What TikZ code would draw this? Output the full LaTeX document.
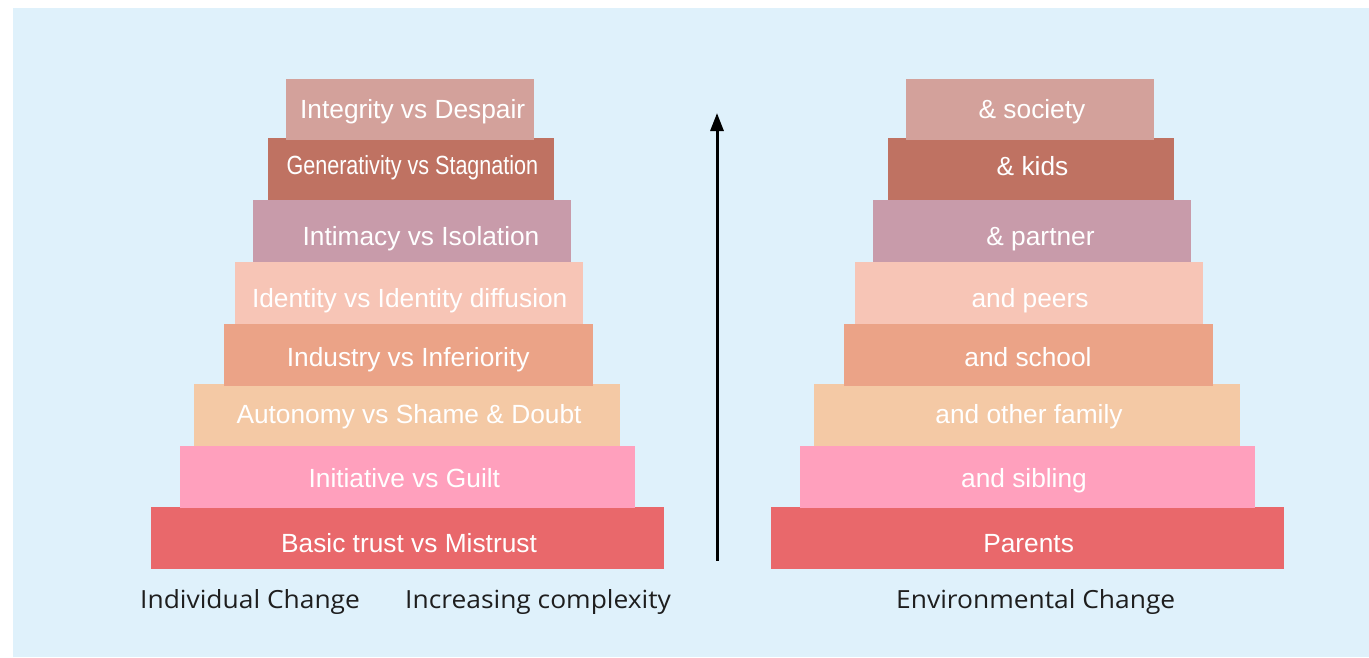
\documentclass[tikz,border=0pt]{standalone}
\usepackage{fontspec}
\setmainfont{Liberation Sans}
\newfontfamily\labelfont{Open Sans}
\usetikzlibrary{arrows.meta}
\definecolor{bgblue}{HTML}{DFF1FB}
\definecolor{cA}{HTML}{D3A19B}
\definecolor{cB}{HTML}{BF7262}
\definecolor{cC}{HTML}{C89BAA}
\definecolor{cD}{HTML}{F7C5B6}
\definecolor{cE}{HTML}{EBA387}
\definecolor{cF}{HTML}{F4C9A5}
\definecolor{cG}{HTML}{FFA0BD}
\definecolor{cH}{HTML}{E9686B}
\definecolor{labelgray}{HTML}{1E1E1E}
\tikzset{
  bar/.style={draw=none, inner sep=0pt, outer sep=0pt, rectangle},
  bartext/.style={anchor=base, inner sep=0pt, text=white, font=\fontsize{26.3}{30}\selectfont},
  caption/.style={anchor=base west, inner sep=0pt, text=labelgray, font=\labelfont\fontsize{25}{30}\selectfont},
  uparrow/.style={line width=3pt, -{Triangle[length=18pt,width=13pt]}}
}
\newcommand{\capwide}[1]{\scalebox{1.055}[1]{#1}}
\begin{document}
\begin{tikzpicture}[x=1pt,y=-1pt]
\useasboundingbox (0,0) rectangle (1369,657);
\fill[bgblue] (13,8) rectangle (1369,657);
% left pyramid (drawn bottom-up)
\node[bar, fill=cH, minimum width=513pt, minimum height=62pt] (L8) at (407.5,538) {};
\node[bar, fill=cG, minimum width=455pt, minimum height=62pt] (L7) at (407.5,477) {};
\node[bar, fill=cF, minimum width=426pt, minimum height=62pt] (L6) at (407,415) {};
\node[bar, fill=cE, minimum width=369pt, minimum height=62pt] (L5) at (408.5,355) {};
\node[bar, fill=cD, minimum width=348pt, minimum height=62pt] (L4) at (409,293) {};
\node[bar, fill=cC, minimum width=318pt, minimum height=62pt] (L3) at (412,231) {};
\node[bar, fill=cB, minimum width=286pt, minimum height=62pt] (L2) at (411,169) {};
\node[bar, fill=cA, minimum width=248pt, minimum height=60.5pt] (L1) at (410,109.25) {};
% right pyramid
\node[bar, fill=cH, minimum width=513pt, minimum height=62pt] (R8) at (1027.5,538) {};
\node[bar, fill=cG, minimum width=455pt, minimum height=62pt] (R7) at (1027.5,477) {};
\node[bar, fill=cF, minimum width=426pt, minimum height=62pt] (R6) at (1027,415) {};
\node[bar, fill=cE, minimum width=369pt, minimum height=62pt] (R5) at (1028.5,355) {};
\node[bar, fill=cD, minimum width=348pt, minimum height=62pt] (R4) at (1029,293) {};
\node[bar, fill=cC, minimum width=318pt, minimum height=62pt] (R3) at (1032,231) {};
\node[bar, fill=cB, minimum width=286pt, minimum height=62pt] (R2) at (1031,169) {};
\node[bar, fill=cA, minimum width=248pt, minimum height=60.5pt] (R1) at (1030,109.25) {};
% left texts
\node[bartext] (tL1) at (412.7,118) {Integrity vs Despair};
\node[bartext] (tL2) at (412.4,174) {\scalebox{0.82}[1]{Generativity vs Stagnation}};
\node[bartext] (tL3) at (421,245) {Intimacy vs Isolation};
\node[bartext] (tL4) at (409.7,307) {Identity vs Identity diffusion};
\node[bartext] (tL5) at (408.2,366) {Industry vs Inferiority};
\node[bartext] (tL6) at (409,423) {Autonomy vs Shame \& Doubt};
\node[bartext] (tL7) at (404.3,487) {Initiative vs Guilt};
\node[bartext] (tL8) at (409,552) {Basic trust vs Mistrust};
% right texts
\node[bartext] (tR1) at (1032,118) {\& society};
\node[bartext] (tR2) at (1032.5,175) {\& kids};
\node[bartext] (tR3) at (1040.5,245) {\& partner};
\node[bartext] (tR4) at (1030,307) {and peers};
\node[bartext] (tR5) at (1028,366) {and school};
\node[bartext] (tR6) at (1029,423) {and other family};
\node[bartext] (tR7) at (1024,487) {and sibling};
\node[bartext] (tR8) at (1028.6,552) {Parents};
% captions
\node[caption] (cap1) at (140,608) {\capwide{Individual Change}};
\node[caption] (cap2) at (405,608) {\capwide{Increasing complexity}};
\node[caption] (cap3) at (896,608) {\capwide{Environmental Change}};
% arrow
\coordinate (arrbot) at (717,560.5);
\coordinate (arrtop) at (717,113);
\draw[uparrow] (arrbot) -- (arrtop);
\end{tikzpicture}
\end{document}
